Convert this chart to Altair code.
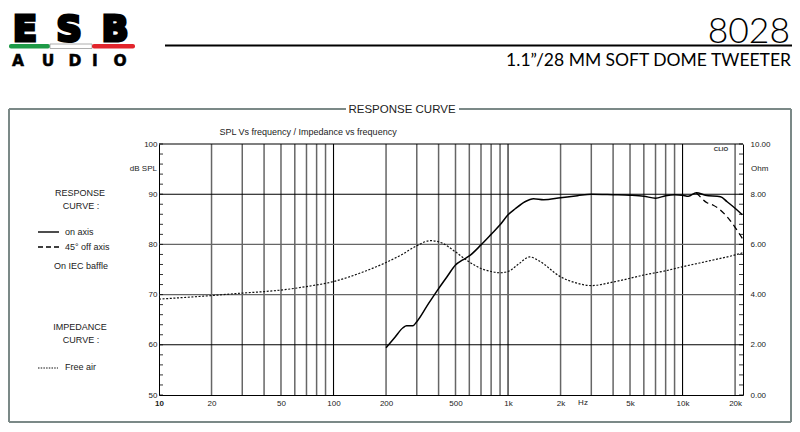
import altair as alt
import pandas as pd

# ---------------- data ----------------
ON_FREQ = [200, 225, 250, 262, 285, 300, 350, 400, 450, 500, 550, 600, 700, 800, 900,
           1000, 1100, 1250, 1400, 1600, 2000, 2500, 3000, 4000, 5000, 6000, 7000, 8000,
           9000, 10000, 10800, 12000, 13500, 16500, 18000, 20000, 22000]
ON_DB = [59.4, 61.5, 63.4, 63.8, 63.8, 64.6, 68.2, 71.2, 73.7, 75.9, 76.9, 77.7, 79.9, 82.0, 83.9,
         85.9, 87.1, 88.5, 89.1, 88.9, 89.3, 89.7, 90.0, 89.9, 89.8, 89.6, 89.2, 89.7,
         89.9, 89.8, 89.6, 90.3, 89.8, 89.5, 88.5, 87.2, 85.9]

OFF_FREQ = [12000, 12300, 13800, 15000, 16000, 18000, 20000, 22000]
OFF_DB = [90.3, 89.9, 88.3, 87.8, 87.2, 85.5, 83.4, 81.2]

IMP_FREQ = [10, 15, 20, 30, 40, 50, 70, 100, 150, 200, 250, 300, 360, 420, 500, 600, 700,
            800, 900, 1000, 1150, 1330, 1500, 2000, 2500, 3000, 4000, 5000, 6000, 8000,
            10000, 15000, 20000, 22000]
IMP_OHM = [3.82, 3.90, 3.96, 4.06, 4.12, 4.18, 4.32, 4.52, 4.92, 5.28, 5.62, 5.95, 6.15, 6.05,
           5.70, 5.30, 5.04, 4.92, 4.87, 4.92, 5.22, 5.50, 5.35, 4.71, 4.45, 4.36, 4.50,
           4.65, 4.78, 4.95, 5.11, 5.38, 5.58, 5.66]

GRID_MINOR = [20, 30, 40, 50, 60, 70, 80, 90, 200, 300, 400, 500, 600, 700, 800, 900,
              2000, 3000, 4000, 5000, 6000, 7000, 8000, 9000, 20000]
GRID_MAJOR = [100, 1000, 10000]
HGRID_DARK = [60, 90, 100]
HGRID_LIGHT = [70, 80]
X_LABELS = [10, 20, 50, 100, 200, 500, 1000, 2000, 5000, 10000, 20000]
DB_LABELS = [50, 60, 70, 80, 90, 100]
OHM_LABELS = [0, 2, 4, 6, 8, 10]
TICK_DB = list(range(50, 101, 2))

# ---------------- layout ----------------
W, H = 584, 251          # plot area
OX, OY = 159, 144        # plot origin on the page
SANS = "Liberation Sans"
HEAD = "Lato"
ONE = pd.DataFrame({"k": [0]})

xscale = alt.Scale(type="log", domain=[10, 22200], nice=False)
xaxis = alt.Axis(values=X_LABELS, grid=False, ticks=False, domain=True, domainColor="black",
                 domainWidth=1, labelFont=SANS, labelFontSize=8, labelColor="#222",
                 labelPadding=4, labelFlush=False, labelOverlap=False, title=None,
                 labelExpr="datum.value >= 1000 ? (datum.value / 1000) + 'k' : datum.value",
                 labelFontWeight={"condition": {"test": "datum.value == 10", "value": "bold"},
                                  "value": "normal"})
dbscale = alt.Scale(domain=[50, 100], nice=False, zero=False)


def X(field="f"):
    return alt.X(f"{field}:Q", scale=xscale, axis=xaxis)


def Ydb(field="db", axis=None):
    return alt.Y(f"{field}:Q", scale=dbscale, axis=axis)


def txt(s, x, y, size=9, align="center", weight="normal", font=SANS, color="#222",
        baseline="middle", **kw):
    return alt.Chart(ONE).mark_text(text=s, align=align, baseline=baseline, fontSize=size,
                                    fontWeight=weight, font=font, color=color, **kw).encode(
        x=alt.value(x - OX), y=alt.value(y - OY))


def rule(x1, y1, x2, y2, color="black", width=1, **kw):
    return alt.Chart(ONE).mark_rule(color=color, strokeWidth=width, **kw).encode(
        x=alt.value(x1 - OX), x2=alt.value(x2 - OX), y=alt.value(y1 - OY), y2=alt.value(y2 - OY))


def rect(x1, y1, x2, y2, fill, **kw):
    return alt.Chart(ONE).mark_rect(fill=fill, **kw).encode(
        x=alt.value(x1 - OX), x2=alt.value(x2 - OX), y=alt.value(y1 - OY), y2=alt.value(y2 - OY))


layers = []

# ---- header / logo ----
for letter, cx in [("E", 25), ("S", 69), ("B", 115)]:
    layers.append(txt(letter, cx, 41, size=35, weight="bold", font="DejaVu Sans",
                      color="black", baseline="alphabetic", stroke="black", strokeWidth=3.2))
layers.append(rect(9, 44, 50, 48.5, "#1e9a47", cornerRadius=2))
layers.append(rect(50, 44, 92, 48.5, "white", stroke="#9a9a9a", strokeWidth=0.8))
layers.append(rect(92, 44, 135, 48.5, "#e2252c", cornerRadius=2))
for letter, cx in [("A", 18), ("U", 48), ("D", 75), ("I", 95), ("O", 120)]:
    layers.append(txt(letter, cx, 66, size=15.5, weight="bold", font="DejaVu Sans",
                      color="black", baseline="alphabetic", stroke="black", strokeWidth=0.5))
layers.append(txt("8028", 790, 43, size=35.5, font=HEAD, weight=300, color="black",
                  align="right", baseline="alphabetic"))
layers.append(rule(165, 45.5, 792, 45.5, width=2))
layers.append(txt("1.1\u201d/28 MM SOFT DOME TWEETER", 791, 66, size=17.5, font=HEAD,
                  color="black", align="right", baseline="alphabetic"))

# ---- frame ----
FRAME = "#7b8987"
layers += [
    rule(9, 109, 346, 109, FRAME, 2),
    rule(459, 109, 791, 109, FRAME, 2),
    rule(9, 109, 9, 422, FRAME, 2),
    rule(791, 109, 791, 422, FRAME, 2),
    rule(9, 422, 791, 422, FRAME, 2),
    txt("RESPONSE CURVE", 402, 110, size=11.5, color="#222"),
    txt("SPL Vs frequency / Impedance vs frequency", 308, 132, size=9),
]

# ---- grid ----
layers.append(alt.Chart(pd.DataFrame({"f": GRID_MINOR})).mark_rule(
    color="#666666", strokeWidth=1.5).encode(x=X()))
layers.append(alt.Chart(pd.DataFrame({"f": GRID_MAJOR})).mark_rule(
    color="black", strokeWidth=1.1).encode(x=X()))
left_axis = alt.Axis(values=DB_LABELS, grid=False, ticks=False, domain=True, domainColor="black",
                     labelFont=SANS, labelFontSize=8, labelColor="#222", labelPadding=2,
                     title=None, orient="left", format="d", labelFlush=False)
layers.append(alt.Chart(pd.DataFrame({"db": HGRID_LIGHT})).mark_rule(
    color="#666666", strokeWidth=1.4).encode(y=Ydb()))
layers.append(alt.Chart(pd.DataFrame({"db": HGRID_DARK})).mark_rule(
    color="black", strokeWidth=1.1).encode(y=Ydb(axis=left_axis)))
# inward ticks
layers.append(alt.Chart(pd.DataFrame({"db": TICK_DB})).mark_rule(
    color="black", strokeWidth=0.8).encode(y=Ydb(), x=alt.value(0), x2=alt.value(4)))
layers.append(alt.Chart(pd.DataFrame({"db": TICK_DB})).mark_rule(
    color="black", strokeWidth=0.8).encode(y=Ydb(), x=alt.value(W - 4), x2=alt.value(W)))

# ---- curves ----
layers.append(alt.Chart(pd.DataFrame({"f": IMP_FREQ, "ohm": IMP_OHM})).mark_line(
    interpolate="monotone", color="#111", strokeWidth=1.2, strokeDash=[2, 1.6]).encode(
    x=X(), y=alt.Y("ohm:Q", scale=alt.Scale(domain=[0, 10], nice=False, zero=False),
                   axis=alt.Axis(values=OHM_LABELS, format=".2f", orient="right", grid=False,
                                 ticks=False, domain=True, domainColor="black", labelFont=SANS,
                                 labelFontSize=8, labelColor="#222", labelPadding=7,
                                 title=None, labelFlush=False))))
layers.append(alt.Chart(pd.DataFrame({"f": OFF_FREQ, "db": OFF_DB})).mark_line(
    interpolate="monotone", color="black", strokeWidth=1.3, strokeDash=[6, 4]).encode(
    x=X(), y=Ydb()))
layers.append(alt.Chart(pd.DataFrame({"f": ON_FREQ, "db": ON_DB})).mark_line(
    interpolate="monotone", color="black", strokeWidth=1.5).encode(x=X(), y=Ydb()))

# ---- axis annotations ----
layers += [
    txt("dB SPL", 157, 169, size=8, align="right"),
    txt("Ohm", 751, 169, size=8, align="left"),
    txt("CLIO", 721, 149, size=6, weight="bold", color="#333"),
    txt("Hz", 583, 403, size=8),
]

# ---- left legend ----
layers += [
    txt("RESPONSE", 80, 193, size=9),
    txt("CURVE :", 81, 206, size=9),
    rule(38, 232, 59, 232, width=1.4),
    txt("on axis", 65, 232, size=9, align="left"),
    rule(38, 247, 59, 247, width=1.4, strokeDash=[5, 3]),
    txt("45\u00b0  off axis", 65, 247, size=9, align="left"),
    txt("On IEC baffle", 81, 266, size=9),
    txt("IMPEDANCE", 80, 327, size=9),
    txt("CURVE :", 81, 340, size=9),
    rule(38, 368, 58, 368, color="#111", width=1.2, strokeDash=[1.5, 1.2]),
    txt("Free air", 65, 367, size=9, align="left"),
]

chart = alt.layer(*layers).resolve_scale(y="independent").properties(
    width=W, height=H,
    autosize=alt.AutoSizeParams(type="none"),
    padding={"left": OX - 8, "top": OY - 8, "right": 784 - (OX - 8) - W,
             "bottom": 416 - (OY - 8) - H},
    background="white",
).configure_view(stroke="transparent")

chart.save("out.html", embed_options={"renderer": "svg", "actions": False})
